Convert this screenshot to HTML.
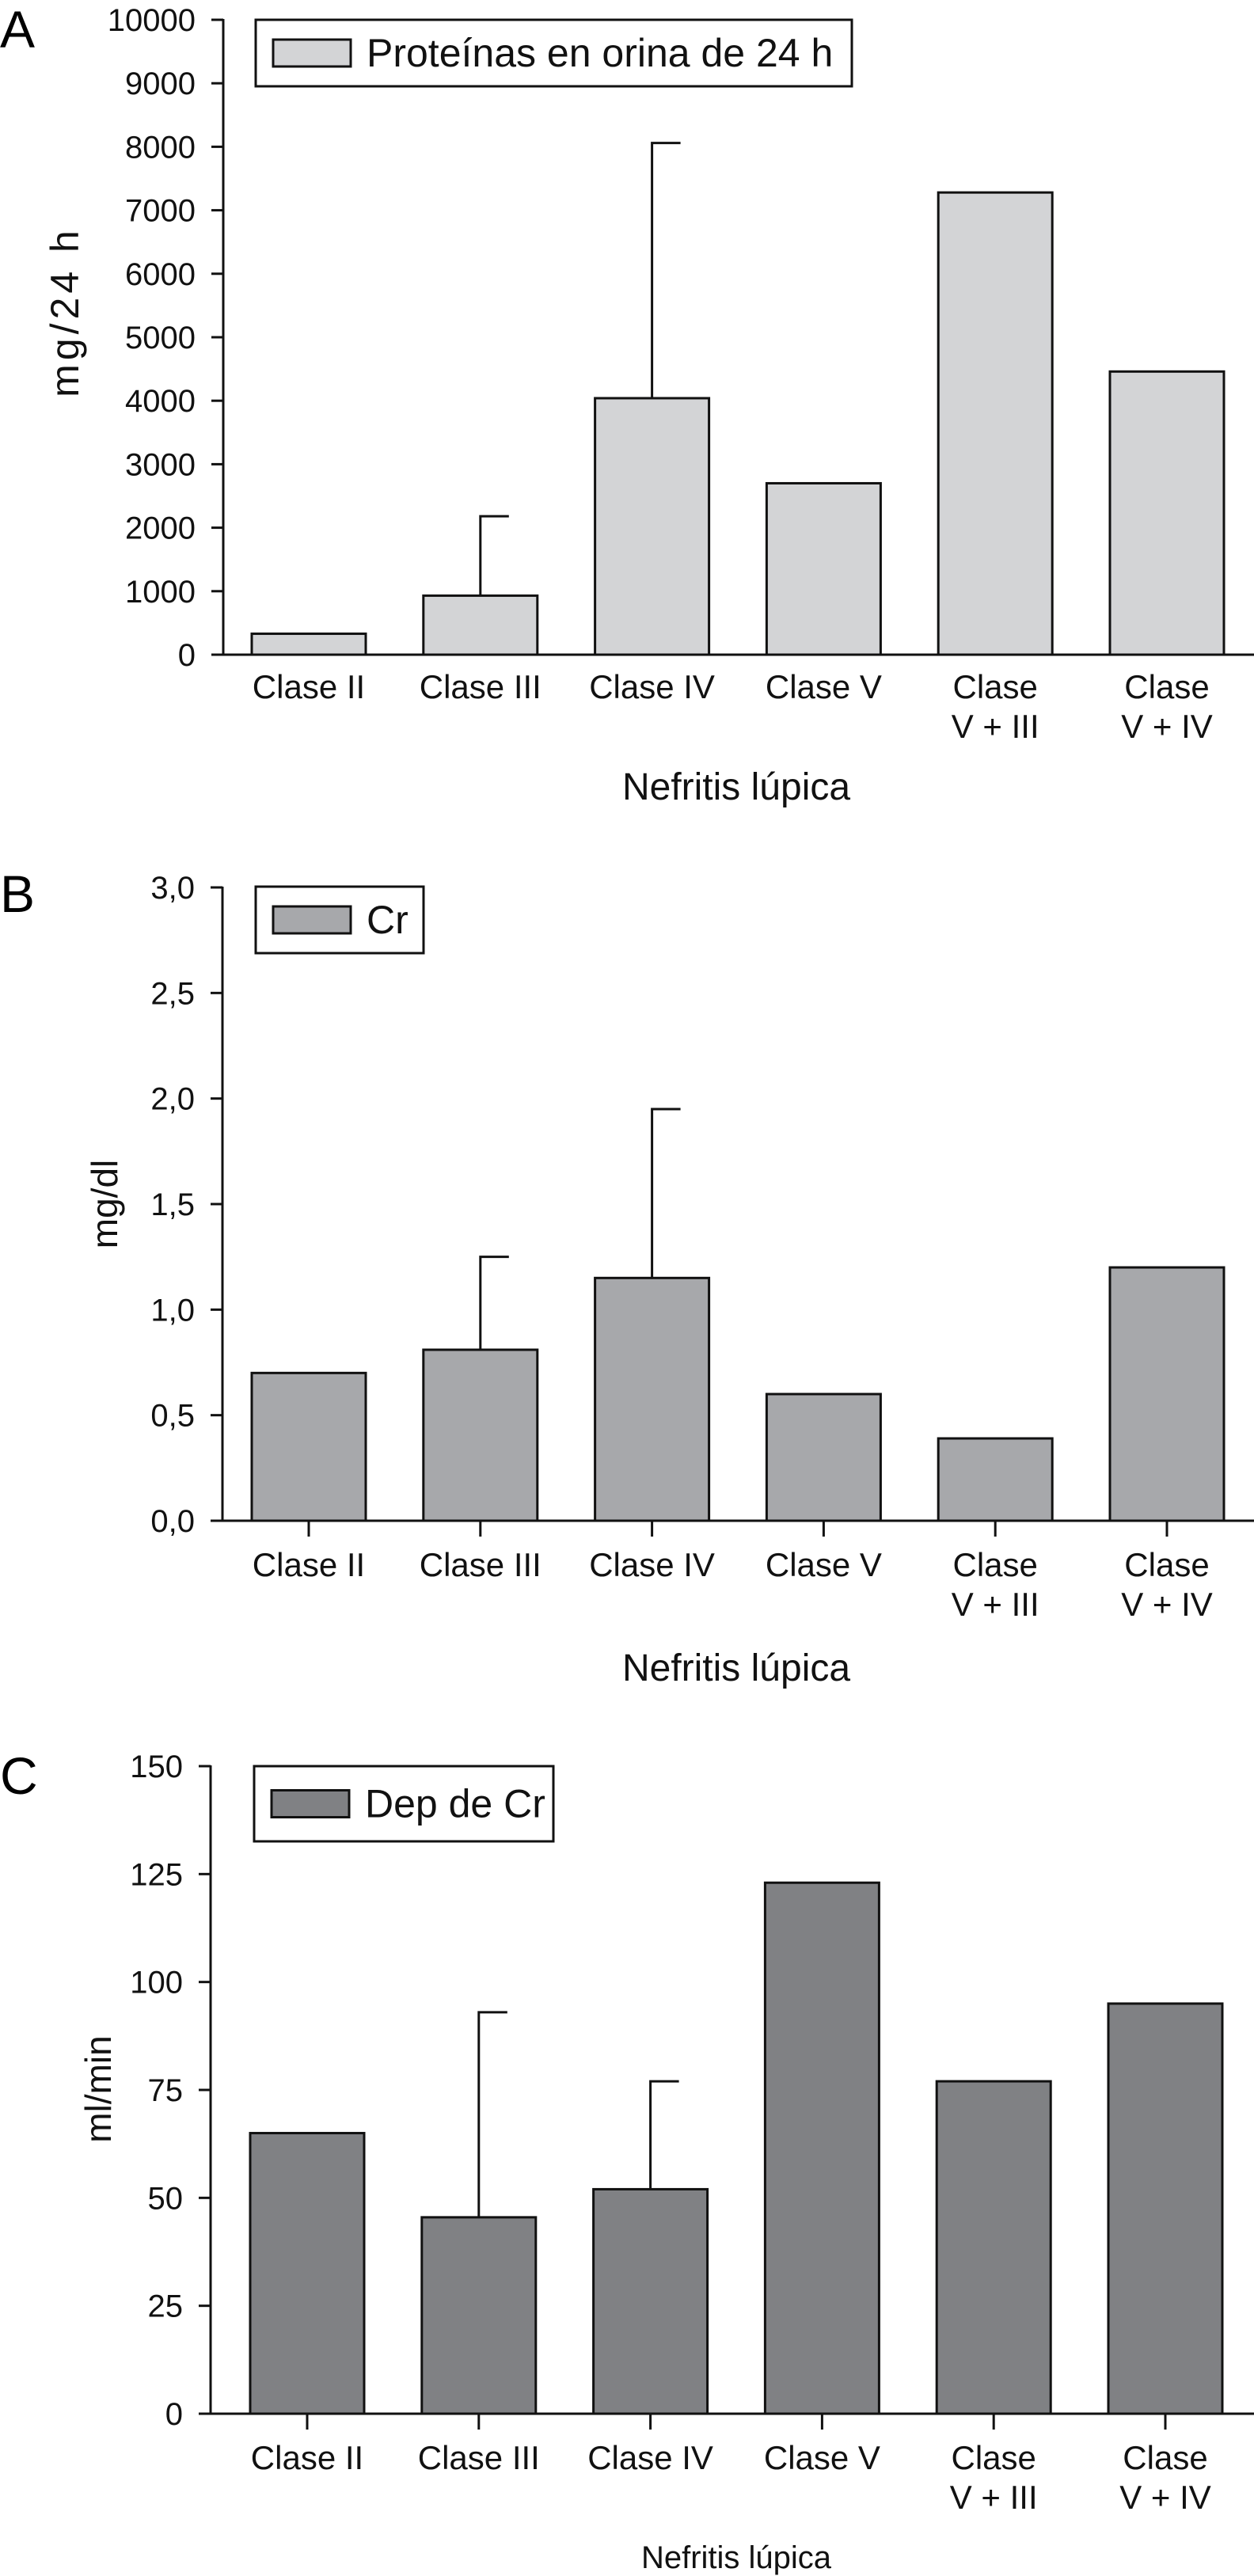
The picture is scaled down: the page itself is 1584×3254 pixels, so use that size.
<!DOCTYPE html>
<html><head><meta charset="utf-8"><style>
html,body{margin:0;padding:0;background:#fff;}
svg{display:block;font-family:"Liberation Sans",Arial,sans-serif;}
</style></head><body>
<svg id="fig" width="1584" height="3254" viewBox="0 0 1584 3254" xmlns="http://www.w3.org/2000/svg"></svg>
<script>
const categories = ["Clase II","Clase III","Clase IV","Clase V","Clase|V + III","Clase|V + IV"];
const valuesA = [330, 930, 4040, 2700, 7280, 4460];
const errTopA = [null, 2180, 8060, null, null, null];
const ticksA = [0,1000,2000,3000,4000,5000,6000,7000,8000,9000,10000];
const tickLabelsA = ["0","1000","2000","3000","4000","5000","6000","7000","8000","9000","10000"];
const valuesB = [0.70, 0.81, 1.15, 0.60, 0.39, 1.20];
const errTopB = [null, 1.25, 1.95, null, null, null];
const ticksB = [0,0.5,1.0,1.5,2.0,2.5,3.0];
const tickLabelsB = ["0,0","0,5","1,0","1,5","2,0","2,5","3,0"];
const valuesC = [65, 45.5, 52, 123, 77, 95];
const errTopC = [null, 93, 77, null, null, null];
const ticksC = [0,25,50,75,100,125,150];
const tickLabelsC = ["0","25","50","75","100","125","150"];

const NS="http://www.w3.org/2000/svg";
const svg=document.getElementById('fig');
function mk(tag,attrs,parent,text){const e=document.createElementNS(NS,tag);for(const k in attrs)e.setAttribute(k,attrs[k]);if(text!==undefined)e.textContent=text;(parent||svg).appendChild(e);return e;}

function chart(p){
  const g=mk('g',{});
  
  
  const y=v=>p.yBottom-(v-p.yMin)/(p.yMax-p.yMin)*(p.yBottom-p.yTop);
  const xc=i=>p.c0+i*216.8;
  const letter=mk('text',{x:0,y:p.letterY,'font-size':66},g,p.letter);
  
  
  p.vals.forEach((v,i)=>{
    const r=mk('rect',{x:xc(i)-72,y:y(v),width:144,height:y(p.yMin)-y(v),fill:p.fill,stroke:'#111','stroke-width':3},g);
    
    
    if(p.err[i]!=null){
      const e=mk('path',{d:`M${xc(i)} ${y(v)}V${y(p.err[i])}H${xc(i)+36}`,fill:'none',stroke:'#111','stroke-width':3},g);
      
      
    }
  });
  const ya=mk('line',{x1:p.x0,y1:y(p.yMax)-1,x2:p.x0,y2:y(p.yMin),stroke:'#111','stroke-width':3},g);
  
  
  const xa=mk('line',{x1:p.x0-15,y1:y(p.yMin),x2:1584,y2:y(p.yMin),stroke:'#111','stroke-width':3},g);
  
  
  p.ticks.forEach((t,i)=>{
    mk('line',{x1:p.x0-15,y1:y(t),x2:p.x0,y2:y(t),stroke:'#111','stroke-width':3},g);
    const tl=mk('text',{x:p.x0-35,y:y(t)+14,'font-size':40,'text-anchor':'end',fill:'#111'},g,p.tickLabels[i]);
    
    
  });
  categories.forEach((c,i)=>{
    if(p.catTicks) mk('line',{x1:xc(i),y1:y(p.yMin),x2:xc(i),y2:y(p.yMin)+20,stroke:'#111','stroke-width':3},g);
    const parts=c.split('|');
    parts.forEach((s,j)=>{
      const t=mk('text',{x:xc(i),y:y(p.yMin)+p.catOff+j*50,'font-size':42,'text-anchor':'middle',fill:'#111'},g,s);
      
      
    });
  });
  const xt=mk('text',{x:p.xTitleX,y:p.xTitleY,'font-size':p.xTitleSize,'text-anchor':'middle',fill:'#111'},g,'Nefritis lúpica');
  
  
  const yt=mk('text',{x:0,y:0,'font-size':p.yTitleSize,'letter-spacing':p.yTitleLS,'text-anchor':'middle','dominant-baseline':'central',fill:'#111',transform:`translate(${p.yTitleX},${p.yTitleY}) rotate(-90)`},g,p.yTitle);
  
  
  const lg=mk('g',{},g);
  
  
  mk('rect',{x:p.leg[0],y:p.leg[1],width:p.leg[2],height:p.leg[3],fill:'#fff',stroke:'#111','stroke-width':3},lg);
  mk('rect',{x:p.leg[0]+22,y:p.leg[1]+p.leg[3]/2-17,width:98,height:34,fill:p.fill,stroke:'#111','stroke-width':3},lg);
  mk('text',{x:p.leg[0]+140,y:p.leg[1]+p.leg[3]/2+17,'font-size':50,fill:'#111'},lg,p.legText);
}

chart({id:'proteinuria',letter:'A',letterY:60,vals:valuesA,err:errTopA,ticks:ticksA,tickLabels:tickLabelsA,yMin:0,yMax:10000,yTop:25,yBottom:827,x0:282,c0:390,fill:'#d3d4d6',catTicks:false,catOff:55,xTitleX:930,xTitleY:1010,xTitleSize:48,yTitle:'mg/24 h',yTitleSize:50,yTitleLS:5,yTitleX:82,yTitleY:394,leg:[323,25,753,84],legText:'Proteínas en orina de 24 h'});
chart({id:'creatinine',letter:'B',letterY:1152,vals:valuesB,err:errTopB,ticks:ticksB,tickLabels:tickLabelsB,yMin:0,yMax:3,yTop:1121,yBottom:1921,x0:281,c0:390,fill:'#a7a8ab',catTicks:true,catOff:70,xTitleX:930,xTitleY:2123,xTitleSize:48,yTitle:'mg/dl',yTitleSize:46,yTitleLS:0,yTitleX:132,yTitleY:1521,leg:[323,1120,212,84],legText:'Cr'});
chart({id:'clearance',letter:'C',letterY:2266,vals:valuesC,err:errTopC,ticks:ticksC,tickLabels:tickLabelsC,yMin:0,yMax:150,yTop:2231,yBottom:3049,x0:266,c0:388,fill:'#808184',catTicks:true,catOff:70,xTitleX:930,xTitleY:3244,xTitleSize:40,yTitle:'ml/min',yTitleSize:46,yTitleLS:0,yTitleX:124,yTitleY:2639,leg:[321,2231,378,95],legText:'Dep de Cr'});
</script>
</body></html>
